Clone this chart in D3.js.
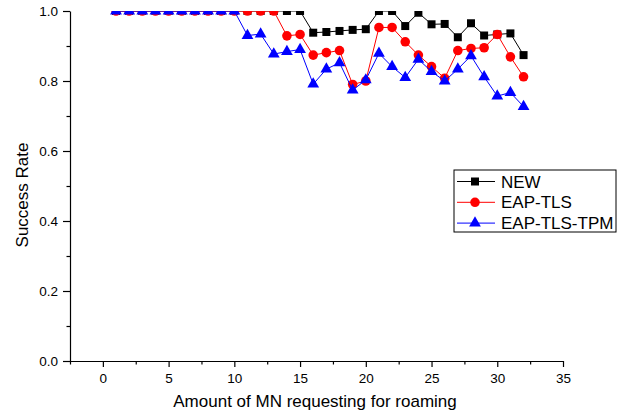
<!DOCTYPE html>
<html>
<head>
<meta charset="utf-8">
<script src="https://cdn.jsdelivr.net/npm/d3@7"></script>
<style>
  body { margin: 0; background: #fff; }
  svg text { font-family: "Liberation Sans", Arial, sans-serif; fill: #000; }
</style>
</head>
<body>
<script>
// data, x = 1..32
var xs = d3.range(1, 33);
var newRate = [1,1,1,1,1,1,1,1,1,1,1,1,1,1,1,
    0.938,0.94,0.943,0.946,0.948,1.0,1.0,0.957,0.995,0.962,0.963,0.925,0.965,0.93,0.933,0.936,0.874];
var eapTls = [1,1,1,1,1,1,1,1,1,1,1,1,1,
    0.929,0.933,0.874,0.881,0.887,0.79,0.80,0.953,0.953,0.912,0.874,0.841,0.808,0.887,0.893,0.895,0.933,0.869,0.812];
var eapTlsTpm = [1,1,1,1,1,1,1,1,1,1,
    0.93,0.934,0.877,0.884,0.89,0.791,0.834,0.852,0.774,0.803,0.879,0.841,0.81,0.862,0.827,0.80,0.834,0.872,0.812,0.757,0.767,0.727];
var seriesNames = ["NEW", "EAP-TLS", "EAP-TLS-TPM"];
var xTicks = [0, 5, 10, 15, 20, 25, 30, 35];
var yTicks = [0, 0.2, 0.4, 0.6, 0.8, 1.0];

function drawChart() {
    var width = 624, height = 416;
    var margin = {left: 70, right: 563, top: 11, bottom: 361};

    var svg = d3.select("body").append("svg")
        .attr("width", width)
        .attr("height", height);

    var xScale = d3.scaleLinear().domain([-2.5, 35]).range([margin.left, margin.right]);
    var yScale = d3.scaleLinear().domain([0, 1]).range([margin.bottom, margin.top]);

    // minor ticks first
    svg.append("g")
        .attr("transform", "translate(0," + margin.bottom + ")")
        .call(d3.axisBottom(xScale).tickValues(d3.range(-2.5, 35, 5)).tickSize(3.5).tickFormat(""))
        .call(function(g) { g.select(".domain").remove(); });
    svg.append("g")
        .attr("transform", "translate(" + margin.left + ",0)")
        .call(d3.axisLeft(yScale).tickValues([0.1, 0.3, 0.5, 0.7, 0.9]).tickSize(3.5).tickFormat(""))
        .call(function(g) { g.select(".domain").remove(); });

    svg.append("g")
        .attr("transform", "translate(0," + margin.bottom + ")")
        .call(d3.axisBottom(xScale).tickValues(xTicks).tickSize(6).tickSizeOuter(0).tickPadding(6));
    svg.append("g")
        .attr("transform", "translate(" + margin.left + ",0)")
        .call(d3.axisLeft(yScale).tickValues(yTicks).tickSize(7).tickSizeOuter(0).tickPadding(5)
            .tickFormat(d3.format(".1f")));

    svg.selectAll(".tick text")
        .style("font-size", "13.5px")
        .style("font-family", "Liberation Sans, Arial, sans-serif");
    svg.selectAll(".domain, .tick line").attr("stroke", "#000").attr("stroke-width", 1.2);

    // axis titles
    svg.append("text")
        .attr("x", 315)
        .attr("y", 407)
        .attr("text-anchor", "middle")
        .style("font-size", "17px")
        .text("Amount of MN requesting for roaming");
    svg.append("text")
        .attr("transform", "translate(28,195) rotate(-90)")
        .attr("text-anchor", "middle")
        .style("font-size", "17px")
        .text("Success Rate");

    // clip the plot region
    svg.append("clipPath").attr("id", "plotclip")
      .append("rect")
        .attr("x", margin.left).attr("y", margin.top)
        .attr("width", margin.right - margin.left).attr("height", margin.bottom - margin.top);

    var plot = svg.append("g").attr("clip-path", "url(#plotclip)");

    var series = [
        {name: seriesNames[0], values: newRate, color: "#000000", shape: d3.symbolSquare, size: 64},
        {name: seriesNames[1], values: eapTls, color: "#ff0000", shape: d3.symbolCircle, size: 72},
        {name: seriesNames[2], values: eapTlsTpm, color: "#0000ff", shape: d3.symbolTriangle, size: 60}
    ];

    var line = d3.line()
        .x(function(d) { return xScale(d.x); })
        .y(function(d) { return yScale(d.y); });

    series.forEach(function(s) {
        var pts = xs.map(function(x, i) { return {x: x, y: s.values[i]}; });
        var g = plot.append("g");
        g.append("path")
            .datum(pts)
            .attr("d", line)
            .attr("fill", "none")
            .attr("stroke", s.color)
            .attr("stroke-width", 1);
        g.selectAll("path.pt")
            .data(pts)
          .enter().append("path")
            .attr("class", "pt")
            .attr("d", d3.symbol().type(s.shape).size(s.size))
            .attr("transform", function(d) { return "translate(" + xScale(d.x) + "," + yScale(d.y) + ")"; })
            .attr("fill", s.color);
    });

    // legend
    var legend = svg.append("g").attr("transform", "translate(454,170)");
    legend.append("rect")
        .attr("width", 162).attr("height", 62)
        .attr("fill", "#fff").attr("stroke", "#000").attr("stroke-width", 1);

    var item = legend.selectAll(".legend")
        .data(series)
      .enter().append("g")
        .attr("class", "legend")
        .attr("transform", function(d, i) { return "translate(0," + (11.5 + i * 20.8) + ")"; });
    item.append("line")
        .attr("x1", 3).attr("x2", 41)
        .attr("stroke", function(d) { return d.color; })
        .attr("stroke-width", 1);
    item.append("path")
        .attr("d", function(d) { return d3.symbol().type(d.shape).size(d.size)(); })
        .attr("transform", "translate(21,0)")
        .attr("fill", function(d) { return d.color; });
    item.append("text")
        .attr("x", 47)
        .attr("dy", "0.36em")
        .style("font-size", "17px")
        .text(function(d) { return d.name; });
}

drawChart();
</script>
</body>
</html>
